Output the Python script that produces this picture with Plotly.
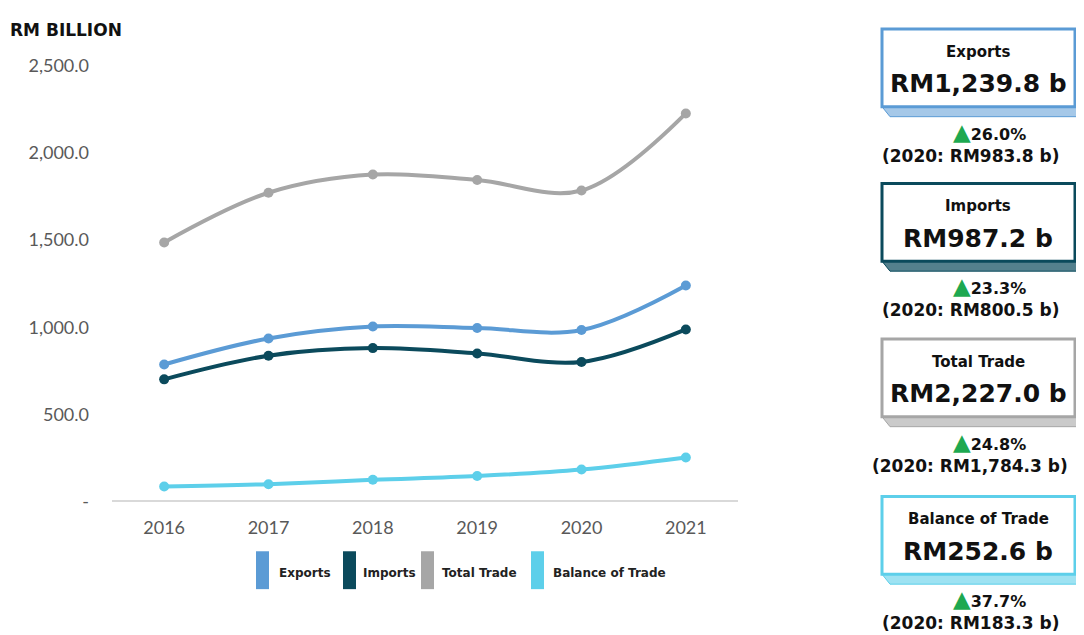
import plotly.graph_objects as go

W, H = 1084, 635

years = ["2016", "2017", "2018", "2019", "2020", "2021"]
exports = [785.9, 935.4, 1003.9, 995.1, 983.8, 1239.8]
imports = [700.7, 836.4, 879.9, 849.4, 800.5, 987.2]
total_trade = [1486.6, 1771.7, 1876.0, 1844.5, 1784.3, 2227.0]
balance = [85.2, 99.0, 124.0, 145.7, 183.3, 252.6]

series_names = ["Exports", "Imports", "Total Trade", "Balance of Trade"]
series_values = [exports, imports, total_trade, balance]
series_colors = ["#5B9BD5", "#0B4A5C", "#A6A6A6", "#5DCFEA"]
side_colors = ["rgba(91,155,213,0.55)", "rgba(11,74,92,0.7)", "rgba(166,166,166,0.6)", "rgba(93,207,234,0.6)"]

pct_change = [26.0, 23.3, 24.8, 37.7]

y_tickvals = [0, 500, 1000, 1500, 2000, 2500]
y_ticktext = ["-", "500.0", "1,000.0", "1,500.0", "2,000.0", "2,500.0"]

# page placement offsets observed in the rendering
OX, OY, EH = 8, 18, 615


def px(x):
    return (x - OX) / W


def py(y):
    return 1 - (y - OY) / EH


fig = go.Figure()
for name, vals, col in zip(series_names, series_values, series_colors):
    fig.add_trace(go.Scatter(
        x=years, y=vals, name=name, mode="lines+markers",
        line=dict(color=col, width=4, shape="spline", smoothing=1.0),
        marker=dict(color=col, size=10),
        showlegend=False,
    ))

shapes = []
annotations = []

annotations.append(dict(
    x=px(8), y=py(28), xref="paper", yref="paper", xanchor="left", yanchor="middle",
    text="<b>RM BILLION</b>", showarrow=False,
    font=dict(family="DejaVu Sans", size=17, color="#111111"),
))

legend_swatch_x = [256, 343, 421, 531]
legend_text_x = [277, 361, 440, 551]
for i, (name, col) in enumerate(zip(series_names, series_colors)):
    x0 = legend_swatch_x[i]
    shapes.append(dict(type="rect", xref="paper", yref="paper",
                       x0=px(x0), x1=px(x0 + 13), y0=py(589), y1=py(551),
                       fillcolor=col, line=dict(width=0)))
    annotations.append(dict(
        x=px(legend_text_x[i]), y=py(573), xref="paper", yref="paper",
        xanchor="left", yanchor="middle", showarrow=False,
        text="<b>" + name + "</b>",
        font=dict(family="DejaVu Sans", size=12, color="#222222"),
    ))

box_tops = [27, 182, 338, 496]
bx0, bx1, bh, depth = 882, 1075, 78, 8
for i in range(4):
    top = box_tops[i]
    bot = top + bh
    col = series_colors[i]
    path = (f"M {px(bx0)},{py(bot)} L {px(bx0 + depth)},{py(bot + depth + 2)} "
            f"L {px(bx1 + depth)},{py(bot + depth + 2)} L {px(bx1 + depth)},{py(top + depth)} "
            f"L {px(bx1)},{py(top)} Z")
    shapes.append(dict(type="path", xref="paper", yref="paper", path=path,
                       fillcolor=side_colors[i], line=dict(color=col, width=1)))
    shapes.append(dict(type="rect", xref="paper", yref="paper",
                       x0=px(bx0), x1=px(bx1), y0=py(bot), y1=py(top),
                       fillcolor="white", line=dict(color=col, width=3)))
    cx = px((bx0 + bx1) / 2)
    v21 = series_values[i][-1]
    v20 = series_values[i][-2]
    annotations.append(dict(
        x=cx, y=py(top + 23), xref="paper", yref="paper", xanchor="center", yanchor="middle",
        showarrow=False, text="<b>" + series_names[i] + "</b>",
        font=dict(family="DejaVu Sans", size=15, color="#111111"),
    ))
    annotations.append(dict(
        x=cx, y=py(top + 55), xref="paper", yref="paper", xanchor="center", yanchor="middle",
        showarrow=False, text="<b>RM{:,.1f} b</b>".format(v21),
        font=dict(family="DejaVu Sans", size=25, color="#111111"),
    ))
    annotations.append(dict(
        x=px(989), y=py(top + 103), xref="paper", yref="paper", xanchor="center", yanchor="middle",
        showarrow=False,
        text="<span style='color:#1DA851;font-size:23px'>▲</span><b>{:.1f}%</b>".format(pct_change[i]),
        font=dict(family="DejaVu Sans", size=16, color="#111111"),
    ))
    annotations.append(dict(
        x=px(970), y=py(top + 127), xref="paper", yref="paper", xanchor="center", yanchor="middle",
        showarrow=False,
        text="<b>(2020: RM{:,.1f} b)</b>".format(v20),
        font=dict(family="DejaVu Sans", size=17, color="#111111"),
    ))

fig.update_layout(
    width=W, height=H,
    margin=dict(l=0, r=0, t=0, b=0),
    paper_bgcolor="white", plot_bgcolor="white",
    shapes=shapes, annotations=annotations,
    xaxis=dict(
        domain=[px(112), px(738)], type="category", range=[-0.5, 5.5],
        showgrid=False, zeroline=False, showline=False,
        ticks="", ticklabelstandoff=14,
        tickfont=dict(family="Lato", size=18, color="#595959"),
    ),
    yaxis=dict(
        domain=[py(501), py(64)], range=[0, 2500],
        tickvals=y_tickvals, ticktext=y_ticktext,
        showgrid=False, zeroline=True, zerolinecolor="#D9D9D9", zerolinewidth=2,
        showline=False, ticks="", ticklabelstandoff=22,
        tickfont=dict(family="Lato", size=18, color="#595959"),
    ),
)

fig.write_html("out.html")
